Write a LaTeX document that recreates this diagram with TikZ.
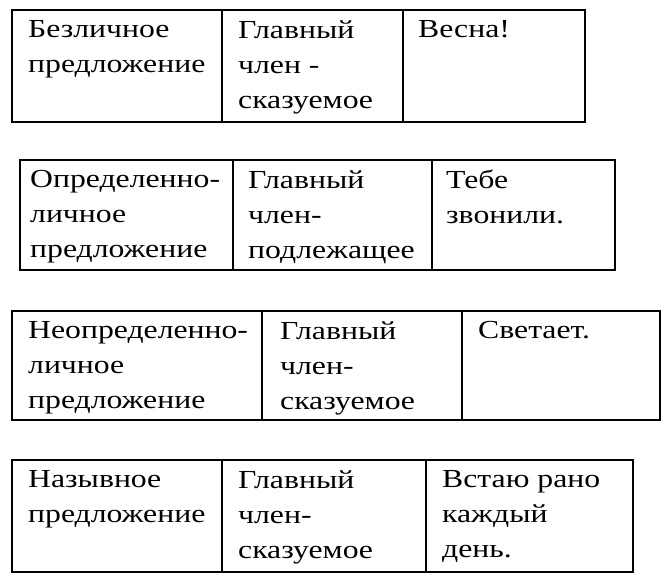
\documentclass[tikz,border=0pt]{standalone}
\usepackage{fontspec}
\setmainfont{Liberation Serif}[FakeStretch=1.22]
\begin{document}
\begin{tikzpicture}[x=1pt,y=-1pt,
  cellbox/.style={draw=black,line width=1.2pt},
  txt/.style={anchor=north west,align=left,inner sep=0pt,font=\fontsize{26}{35}\selectfont}]
\useasboundingbox (0,0) rectangle (672,584);
% table 1
\draw[cellbox] (12,10) rectangle (585,122);
\draw[cellbox] (222,10) -- (222,122) (403,10) -- (403,122);
\node[txt] (a1) at (28,20) {Безличное\\предложение};
\node[txt] (a2) at (238,20) {Главный\\член -\\сказуемое};
\node[txt] (a3) at (418,20) {Весна!};
% table 2
\draw[cellbox] (20,160) rectangle (615,270);
\draw[cellbox] (233,160) -- (233,270) (432,160) -- (432,270);
\node[txt] (b1) at (30,170) {Определенно-\\личное\\предложение};
\node[txt] (b2) at (248,170) {Главный\\член-\\подлежащее};
\node[txt] (b3) at (446,170) {Тебе\\звонили.};
% table 3
\draw[cellbox] (12,311) rectangle (660,420);
\draw[cellbox] (262,311) -- (262,420) (462,311) -- (462,420);
\node[txt] (c1) at (28,321) {Неопределенно-\\личное\\предложение};
\node[txt] (c2) at (280,321) {Главный\\член-\\сказуемое};
\node[txt] (c3) at (478,321) {Светает.};
% table 4
\draw[cellbox] (12,460) rectangle (633,572);
\draw[cellbox] (222,460) -- (222,572) (426,460) -- (426,572);
\node[txt] (d1) at (28,470) {Назывное\\предложение};
\node[txt] (d2) at (238,470) {Главный\\член-\\сказуемое};
\node[txt] (d3) at (442,470) {Встаю рано\\каждый\\день.};
\end{tikzpicture}
\end{document}
